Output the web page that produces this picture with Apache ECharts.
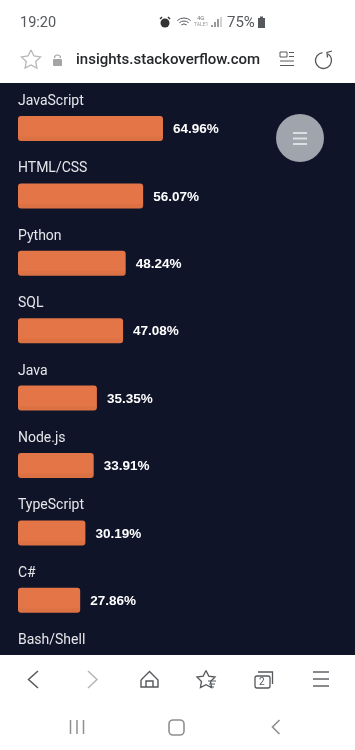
<!DOCTYPE html>
<html>
<head>
<meta charset="utf-8">
<style>html,body{margin:0;padding:0;background:#0f1429}#main{width:355px;height:750px}</style>
<script src="https://cdn.jsdelivr.net/npm/echarts@6/dist/echarts.min.js"></script>
</head>
<body>
<div id="main"></div>
<script>
var categories = ['JavaScript', 'HTML/CSS', 'Python', 'SQL', 'Java', 'Node.js', 'TypeScript', 'C#', 'Bash/Shell'];
var percents = [64.96, 56.07, 48.24, 47.08, 35.35, 33.91, 30.19, 27.86, 27.13];

var GREY = '#55585c';
var LIGHT = '#b4b6b9';

function line(points, color, width) {
    return {type: 'polyline', shape: {points: points}, style: {stroke: color || GREY, lineWidth: width || 1.4, fill: null}};
}
function text(x, y, str, size, color, weight, family) {
    return {type: 'text', x: x, y: y, style: {text: str, fontSize: size, fill: color, fontWeight: weight || 'normal',
        fontFamily: family || 'Roboto', textVerticalAlign: 'middle', verticalAlign: 'middle'}};
}
function star(cx, cy, r, color) {
    var pts = [];
    for (var i = 0; i < 11; i++) {
        var rr = i % 2 ? r * 0.5 : r;
        var a = -Math.PI / 2 + i * Math.PI / 5;
        pts.push([cx + rr * Math.cos(a), cy + rr * Math.sin(a)]);
    }
    return line(pts, color, 1.3);
}

// 浏览器外框
var chrome = [
    {type: 'rect', shape: {x: 0, y: 0, width: 355, height: 83}, style: {fill: '#fff'}},
    {type: 'rect', shape: {x: 0, y: 655, width: 355, height: 95}, style: {fill: '#fff'}},
    text(20, 23, '19:20', 14.5, '#55585c'),
    // 状态栏图标
    {type: 'circle', shape: {cx: 165, cy: 23, r: 4.5}, style: {fill: '#333'}},
    line([[160, 19], [162, 17]], '#333', 1.5),
    line([[170, 19], [168, 17]], '#333', 1.5),
    {type: 'arc', shape: {cx: 184, cy: 28, r: 10, startAngle: -2.3, endAngle: -0.85}, style: {stroke: GREY, lineWidth: 1, fill: null}},
    {type: 'arc', shape: {cx: 184, cy: 28, r: 7, startAngle: -2.3, endAngle: -0.85}, style: {stroke: GREY, lineWidth: 1, fill: null}},
    {type: 'arc', shape: {cx: 184, cy: 28, r: 4, startAngle: -2.3, endAngle: -0.85}, style: {stroke: GREY, lineWidth: 1, fill: null}},
    text(197, 18, '4G', 6, '#777'),
    text(194, 25, 'TALE1', 5, '#999'),
    line([[212, 27], [212, 25]], GREY, 1.2),
    line([[215, 27], [215, 22]], GREY, 1.2),
    line([[218, 27], [218, 19]], GREY, 1.2),
    line([[221, 27], [221, 17]], LIGHT, 1.2),
    text(227, 23, '75%', 15, '#55585c'),
    {type: 'rect', shape: {x: 258, y: 18, width: 7, height: 10}, style: {fill: '#55585c'}},
    {type: 'rect', shape: {x: 260, y: 16.5, width: 3, height: 2}, style: {fill: '#55585c'}},
    // 地址栏
    star(31, 60, 10, LIGHT),
    {type: 'rect', shape: {x: 53, y: 59, width: 9, height: 7, r: 1}, style: {fill: '#a2a4a6'}},
    {type: 'arc', shape: {cx: 57.5, cy: 58, r: 3, startAngle: Math.PI, endAngle: 0}, style: {stroke: '#a2a4a6', lineWidth: 1.2, fill: null}},
    text(76, 60, 'insights.stackoverflow.com', 15, '#26282b', 500),
    {type: 'rect', shape: {x: 280, y: 52, width: 7, height: 5}, style: {stroke: GREY, lineWidth: 1, fill: null}},
    line([[289, 52.5], [294, 52.5]], GREY, 1),
    line([[289, 56.5], [294, 56.5]], GREY, 1),
    line([[280, 61], [294, 61]], GREY, 1),
    line([[280, 65.5], [294, 65.5]], GREY, 1),
    {type: 'arc', shape: {cx: 323.5, cy: 60.5, r: 8, startAngle: -0.95, endAngle: -1.7}, style: {stroke: GREY, lineWidth: 1.3, fill: null}},
    line([[332, 51], [327, 52.5], [327.5, 57.5]], GREY, 1.3),
    // 浮动按钮
    {type: 'circle', shape: {cx: 300, cy: 138, r: 24}, style: {fill: '#a0a4ac'}},
    line([[293, 133], [307, 133]], '#dcdee1', 2),
    line([[293, 138.5], [307, 138.5]], '#dcdee1', 2),
    line([[293, 144], [307, 144]], '#dcdee1', 2),
    // 底部工具栏
    line([[38, 671], [28.5, 679.5], [38, 688]], GREY, 1.5),
    line([[88, 671], [97, 679.5], [88, 688]], LIGHT, 1.5),
    line([[141, 680], [149.5, 671.5], [158, 680], [158, 687], [141, 687], [141, 680]], GREY, 1.4),
    line([[146, 687], [146, 681], [153, 681], [153, 687]], GREY, 1.4),
    star(206, 680, 9.5, GREY),
    line([[208, 681], [216, 681]], GREY, 1),
    line([[209, 684], [215, 684]], GREY, 1),
    line([[210, 687], [214, 687]], GREY, 1),
    {type: 'rect', shape: {x: 255, y: 676, width: 15, height: 12, r: 2}, style: {stroke: GREY, lineWidth: 1.3, fill: '#fff'}},
    line([[258, 672], [272.5, 672], [272.5, 684]], GREY, 1.3),
    text(259, 682.5, '2', 10, '#55585c'),
    line([[313, 672], [329, 672]], GREY, 1.4),
    line([[313, 679], [329, 679]], GREY, 1.4),
    line([[313, 686], [329, 686]], GREY, 1.4),
    // 系统导航
    line([[70.5, 720], [70.5, 734]], '#8d8f92', 1.5),
    line([[77, 720], [77, 734]], '#8d8f92', 1.5),
    line([[83.5, 720], [83.5, 734]], '#8d8f92', 1.5),
    {type: 'rect', shape: {x: 169, y: 720, width: 15, height: 15, r: 4}, style: {stroke: '#8d8f92', lineWidth: 1.6, fill: null}},
    line([[279.5, 720], [272.5, 727], [279.5, 734]], '#8d8f92', 1.6)
];
chrome.forEach(function (el) { el.z = 100; });

var chart = echarts.init(document.getElementById('main'));
chart.setOption({
    animation: false,
    backgroundColor: '#0f1429',
    grid: {left: 18, top: 94.8, width: 223.2, height: 606.6},
    xAxis: {type: 'value', min: 0, max: 100, show: false},
    yAxis: {
        type: 'category',
        inverse: true,
        data: categories,
        axisLine: {show: false},
        axisTick: {show: false},
        axisLabel: {inside: true, margin: 0, align: 'left', verticalAlign: 'bottom', padding: [0, 0, 20, 0],
            color: '#e6e7ea', fontSize: 14, fontFamily: 'Roboto'}
    },
    series: [{
        type: 'bar',
        data: percents,
        barWidth: 25,
        itemStyle: {
            borderRadius: 3,
            color: {type: 'linear', x: 0, y: 0, x2: 0, y2: 1, colorStops: [
                {offset: 0, color: '#e47546'}, {offset: 0.8, color: '#e47546'},
                {offset: 0.84, color: '#dc7143'}, {offset: 1, color: '#dc7143'}
            ]}
        },
        label: {
            show: true, position: 'right', distance: 10, color: '#fff', fontSize: 13.5, fontWeight: 'bold',
            fontFamily: 'Liberation Sans', offset: [0, 1], formatter: function (p) { return p.value.toFixed(2) + '%'; }
        }
    }],
    graphic: {elements: chrome}
});
</script>
</body>
</html>
